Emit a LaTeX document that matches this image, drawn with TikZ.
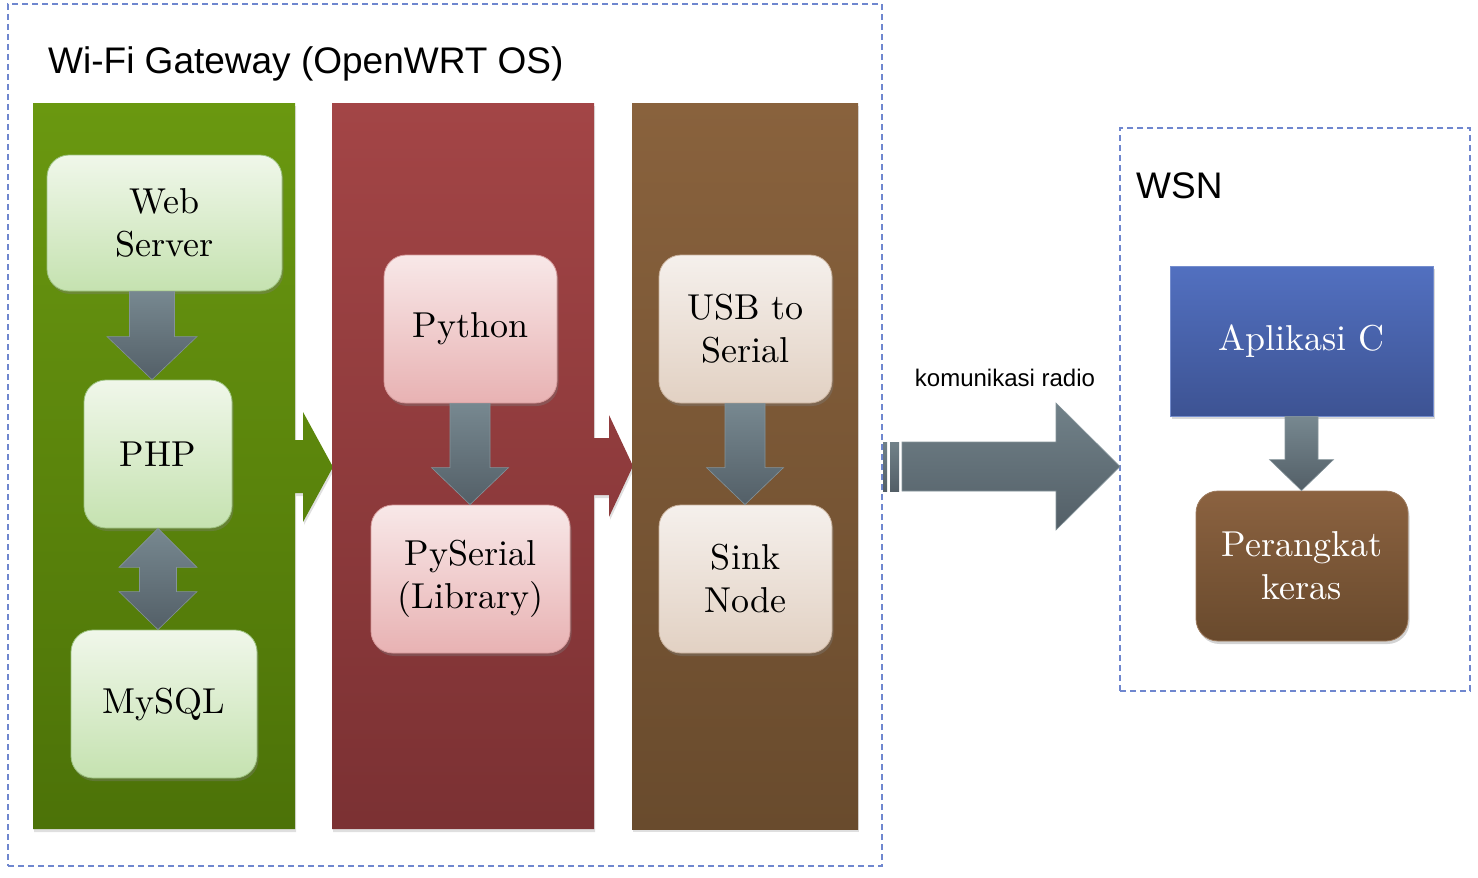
\documentclass[tikz,border=0pt]{standalone}
\usepackage{fontspec}
\newfontfamily\sansf{Liberation Sans}
\newfontfamily\boxf{lmroman10-regular.otf}
\usetikzlibrary{shadows,calc}
\definecolor{dashblue}{HTML}{6F87CF}
\definecolor{greentop}{HTML}{6A9810}
\definecolor{greenbot}{HTML}{4C7208}
\definecolor{redtop}{HTML}{A34546}
\definecolor{redbot}{HTML}{7B3133}
\definecolor{browntop}{HTML}{89623D}
\definecolor{brownbot}{HTML}{694B2D}
\definecolor{gtop}{HTML}{F0F7EA}
\definecolor{gbot}{HTML}{C5E2B0}
\definecolor{gedge}{HTML}{9CC27E}
\definecolor{rtop}{HTML}{F8E8E8}
\definecolor{rbot}{HTML}{E8B2B3}
\definecolor{redge}{HTML}{D69A9B}
\definecolor{btop}{HTML}{F5F0EC}
\definecolor{bbot}{HTML}{E2D1C3}
\definecolor{bedge}{HTML}{C9B19C}
\definecolor{atop}{HTML}{5270C0}
\definecolor{abot}{HTML}{3D5393}
\definecolor{ptop}{HTML}{8B6240}
\definecolor{pbot}{HTML}{694A2D}
\definecolor{artop}{HTML}{778890}
\definecolor{arbot}{HTML}{535F67}
\definecolor{aredge}{HTML}{84939A}
\newcommand\vblockarrow[6]{% from, to, x, shaft half, head half, head length
  \shade[arrowshade] let \p1=(#1.south), \p2=(#2.north) in
   (#3-#4,\y1) -- (#3+#4,\y1) -- (#3+#4,\y2+#6) -- (#3+#5,\y2+#6) -- (#3,\y2)
   -- (#3-#5,\y2+#6) -- (#3-#4,\y2+#6) -- cycle;}
\begin{document}
\begin{tikzpicture}[x=1pt,y=-1pt,
  dashbox/.style={draw=dashblue, line width=1.8pt, dash pattern=on 6pt off 4pt, inner sep=0pt},
  rbox/.style={rounded corners=22pt, align=center, font=\boxf\fontsize{36}{43}\selectfont, inner sep=0pt,
    line width=0.8pt, drop shadow={opacity=0.35, shadow xshift=1.5pt, shadow yshift=-3pt}},
  gbox/.style={rbox, top color=gtop, bottom color=gbot, draw=gedge},
  rdbox/.style={rbox, top color=rtop, bottom color=rbot, draw=redge},
  bnbox/.style={rbox, top color=btop, bottom color=bbot, draw=bedge},
  colshadow/.style={drop shadow={opacity=0.25, shadow xshift=1pt, shadow yshift=-3pt}},
  arrowshade/.style={top color=artop, bottom color=arbot, draw=aredge, line width=0.6pt},
  title/.style={anchor=base west, font=\sansf\fontsize{37}{44}\selectfont, inner sep=0pt}
  ]
\useasboundingbox (0,0) rectangle (1478,878);

% dashed containers
\node[dashbox, minimum width=874pt, minimum height=862pt] (gw) at (445,435) {};
\node[dashbox, minimum width=350pt, minimum height=563pt] (wsn) at (1295,409.5) {};

% columns
\shade[top color=greentop, bottom color=greenbot, colshadow]
  (33,103) -- (295,103) -- (295,440) -- (303,440) -- (303,412) -- (333,467) -- (303,522)
  -- (303,493) -- (295,493) -- (295,829) -- (33,829) -- cycle;
\shade[top color=redtop, bottom color=redbot, colshadow]
  (332,103) -- (594,103) -- (594,438) -- (609,438) -- (609,415) -- (633,466) -- (609,517)
  -- (609,495) -- (594,495) -- (594,829) -- (332,829) -- cycle;
\shade[top color=browntop, bottom color=brownbot, colshadow]
  (632,103) rectangle (858,829);

% titles
\node[title] (gwtitle) at (48,73) {Wi-Fi Gateway (OpenWRT OS)};
\node[title] (wsntitle) at (1136,198) {WSN};
\node[anchor=base, font=\sansf\fontsize{24}{28}\selectfont, inner sep=0pt] (radio) at (1005,386) {komunikasi radio};

% boxes
\node[gbox, minimum width=235pt, minimum height=136pt] (web) at (164.5,223) {Web\\Server};
\node[gbox, minimum width=148pt, minimum height=148pt] (php) at (158,454) {PHP};
\node[gbox, minimum width=186pt, minimum height=148pt] (mysql) at (164,704) {MySQL};
\node[rdbox, minimum width=173pt, minimum height=148pt] (python) at (470.5,329) {Python};
\node[rdbox, minimum width=199pt, minimum height=148pt] (pyserial) at (470.5,579) {PySerial\\(Library)};
\node[bnbox, minimum width=173pt, minimum height=148pt] (usb) at (745.5,329) {USB to\\Serial};
\node[bnbox, minimum width=173pt, minimum height=148pt] (sink) at (745.5,579) {Sink\\Node};
\node[align=center, font=\boxf\fontsize{36}{43}\selectfont, text=white, inner sep=0pt,
  top color=atop, bottom color=abot, draw=atop!80!white, line width=0.6pt,
  drop shadow={opacity=0.3, shadow xshift=1.5pt, shadow yshift=-3pt},
  minimum width=263pt, minimum height=150pt] (aplikasi) at (1301.5,341) {Aplikasi C};
\node[rbox, text=white, top color=ptop, bottom color=pbot, draw=ptop!85!white,
  minimum width=212pt, minimum height=150pt] (perangkat) at (1302,566) {Perangkat\\keras};

% block arrows
\vblockarrow{web}{php}{152pt}{22.5pt}{45pt}{43pt}
\vblockarrow{python}{pyserial}{470pt}{20pt}{38.5pt}{37pt}
\vblockarrow{usb}{sink}{745pt}{20pt}{38.5pt}{37pt}
\vblockarrow{aplikasi}{perangkat}{1301.5pt}{16.5pt}{32pt}{31pt}
\shade[arrowshade] let \p1=(php.south), \p2=(mysql.north) in
  (158pt,\y1) -- (197pt,\y1-39pt) -- (176.5pt,\y1-39pt) -- (176.5pt,\y2+38pt) -- (197pt,\y2+38pt)
  -- (158pt,\y2) -- (119pt,\y2+38pt) -- (139.5pt,\y2+38pt) -- (139.5pt,\y1-39pt) -- (119pt,\y1-39pt) -- cycle;

% radio arrow
\shade[top color=artop!95!black, bottom color=arbot, draw=aredge, line width=0.6pt]
  (902,442) -- (1056,442) -- (1056,403) -- (1120,466.5) -- (1056,530) -- (1056,491) -- (902,491) -- cycle;
\shade[top color=artop!95!black, bottom color=arbot] (883,442) rectangle (887,491);
\shade[top color=artop!95!black, bottom color=arbot] (890,442) rectangle (899,491);
\end{tikzpicture}
\end{document}
